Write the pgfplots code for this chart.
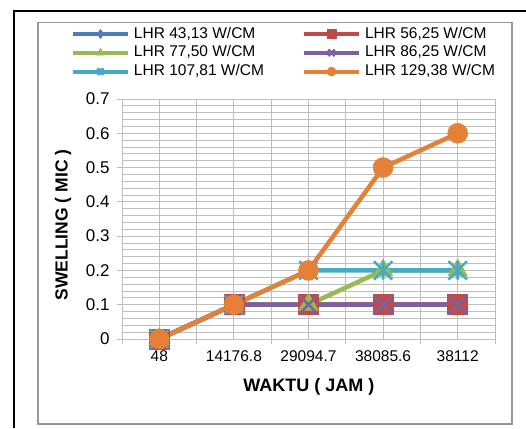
\documentclass[border=0pt]{standalone}
\usepackage{fontspec}
\setmainfont{Liberation Sans}
\usepackage{pgfplots}
\pgfplotsset{compat=1.18}

\definecolor{cBlue}{RGB}{74,126,187}
\definecolor{cRed}{RGB}{190,75,72}
\definecolor{cGreen}{RGB}{152,185,84}
\definecolor{cPurple}{RGB}{125,96,160}
\definecolor{cCyan}{RGB}{70,170,197}
\definecolor{cOrange}{RGB}{228,128,56}
\definecolor{gridgray}{RGB}{190,190,190}
\definecolor{framegray}{RGB}{150,150,150}

\pgfdeclareplotmark{xstar}{%
 \pgfpathmoveto{\pgfqpoint{-.7071\pgfplotmarksize}{-.7071\pgfplotmarksize}}%
 \pgfpathlineto{\pgfqpoint{.7071\pgfplotmarksize}{.7071\pgfplotmarksize}}%
 \pgfpathmoveto{\pgfqpoint{-.7071\pgfplotmarksize}{.7071\pgfplotmarksize}}%
 \pgfpathlineto{\pgfqpoint{.7071\pgfplotmarksize}{-.7071\pgfplotmarksize}}%
 \pgfpathmoveto{\pgfqpoint{0pt}{-.7071\pgfplotmarksize}}%
 \pgfpathlineto{\pgfqpoint{0pt}{.7071\pgfplotmarksize}}%
 \pgfusepathqstroke}

\begin{document}
\begin{tikzpicture}
\path[use as bounding box, fill=white] (0pt,0pt) rectangle (526pt,428pt);
\draw[black, line width=2pt] (14pt,0pt) -- (14pt,416.5pt) -- (526pt,416.5pt);
\draw[framegray, line width=1.3pt] (38pt,4pt) rectangle (512pt,405.5pt);
\begin{axis}[
 at={(122pt,89pt)}, anchor=south west, scale only axis,
 width=373pt, height=240pt,
 xmin=-0.5, xmax=4.5, ymin=0, ymax=0.7,
 clip=false,
 xtick={-0.5,0.5,1.5,2.5,3.5,4.5}, xticklabels={,,,,,},
 extra x ticks={0,1,2,3,4},
 extra x tick labels={48,14176.8,29094.7,38085.6,38112},
 extra x tick style={major tick length=0pt, xmajorgrids=true},
 xmajorgrids, ymajorgrids, yminorgrids,
 ytick={0,0.1,0.2,0.3,0.4,0.5,0.6,0.7},
 minor ytick={0.02,0.04,0.06,0.08,0.12,0.14,0.16,0.18,0.22,0.24,0.26,0.28,0.32,0.34,0.36,0.38,0.42,0.44,0.46,0.48,0.52,0.54,0.56,0.58,0.62,0.64,0.66,0.68},
 xtick pos=lower, ytick pos=left,
 tick align=outside, major tick length=5pt, minor tick length=0.01pt,
 tick style={draw=gridgray, line width=1pt},
 major grid style={draw=gridgray, line width=1pt},
 minor grid style={draw=gridgray, line width=1pt},
 axis line style={draw=gridgray, line width=1pt},
 scaled y ticks=false,
 /pgf/number format/assume math mode=true,
 yticklabel style={/pgf/number format/fixed, /pgf/number format/precision=1,
   font=\fontsize{17}{20}\selectfont, xshift=-4pt},
 xticklabel style={font=\fontsize{15.5}{18}\selectfont, yshift=-8pt},
 xlabel={\bfseries WAKTU ( JAM )},
 ylabel={\bfseries SWELLING ( MIC )},
 xlabel style={at={(axis description cs:0.501,-0.2)}, anchor=center,
   font=\fontsize{18}{21}\selectfont},
 ylabel style={at={(axis description cs:-0.158,0.475)}, anchor=center,
   font=\fontsize{17.5}{21}\selectfont},
 legend columns=2,
 legend image code/.code={\draw[mark repeat=2,mark phase=2,#1] plot coordinates {(0pt,0pt)(27.5pt,0pt)(55pt,0pt)};},
 legend image post style={mark size=4.5pt, line width=4pt},
 legend style={at={(axis description cs:-0.1368,1.30)}, anchor=north west,
   draw=none, fill=none, inner sep=0pt, outer sep=0pt,
   font=\fontsize{15.5}{18}\selectfont,
   row sep=4.8pt, column sep=4pt,
   nodes={inner sep=0pt, text height=11pt, text depth=3pt},
   cells={anchor=west},
   /tikz/column 2/.style={column sep=38pt}},
 every axis plot/.append style={line width=4.5pt, line join=round},
]
\addplot[cBlue, mark=diamond*, mark size=10pt, mark options={solid, fill=cBlue, line width=0.5pt}]
 coordinates {(0,0)(1,0.1)(2,0.1)(3,0.1)(4,0.1)};
\addlegendentry{LHR 43,13 W/CM}
\addplot[cRed, mark=square*, mark size=10pt, mark options={solid, fill=cRed, line width=0.5pt}]
 coordinates {(0,0)(1,0.1)(2,0.1)(3,0.1)(4,0.1)};
\addlegendentry{LHR 56,25 W/CM}
\addplot[cGreen, mark=triangle*, mark size=11.5pt, mark options={solid, fill=cGreen, line width=0.5pt}]
 coordinates {(0,0)(1,0.1)(2,0.1)(3,0.2)(4,0.2)};
\addlegendentry{LHR 77,50 W/CM}
\addplot[cPurple, mark=x, mark size=13pt, mark options={solid, line width=2.5pt}]
 coordinates {(0,0)(1,0.1)(2,0.1)(3,0.1)(4,0.1)};
\addlegendentry{LHR 86,25 W/CM}
\addplot[cCyan, mark=xstar, mark size=13pt, mark options={solid, line width=2.5pt}]
 coordinates {(0,0)(1,0.1)(2,0.2)(3,0.2)(4,0.2)};
\addlegendentry{LHR 107,81 W/CM}
\addplot[cOrange, mark=*, mark size=10pt, mark options={solid, fill=cOrange, line width=0.5pt}]
 coordinates {(0,0)(1,0.1)(2,0.2)(3,0.5)(4,0.6)};
\addlegendentry{LHR 129,38 W/CM}
\end{axis}
\end{tikzpicture}
\end{document}
